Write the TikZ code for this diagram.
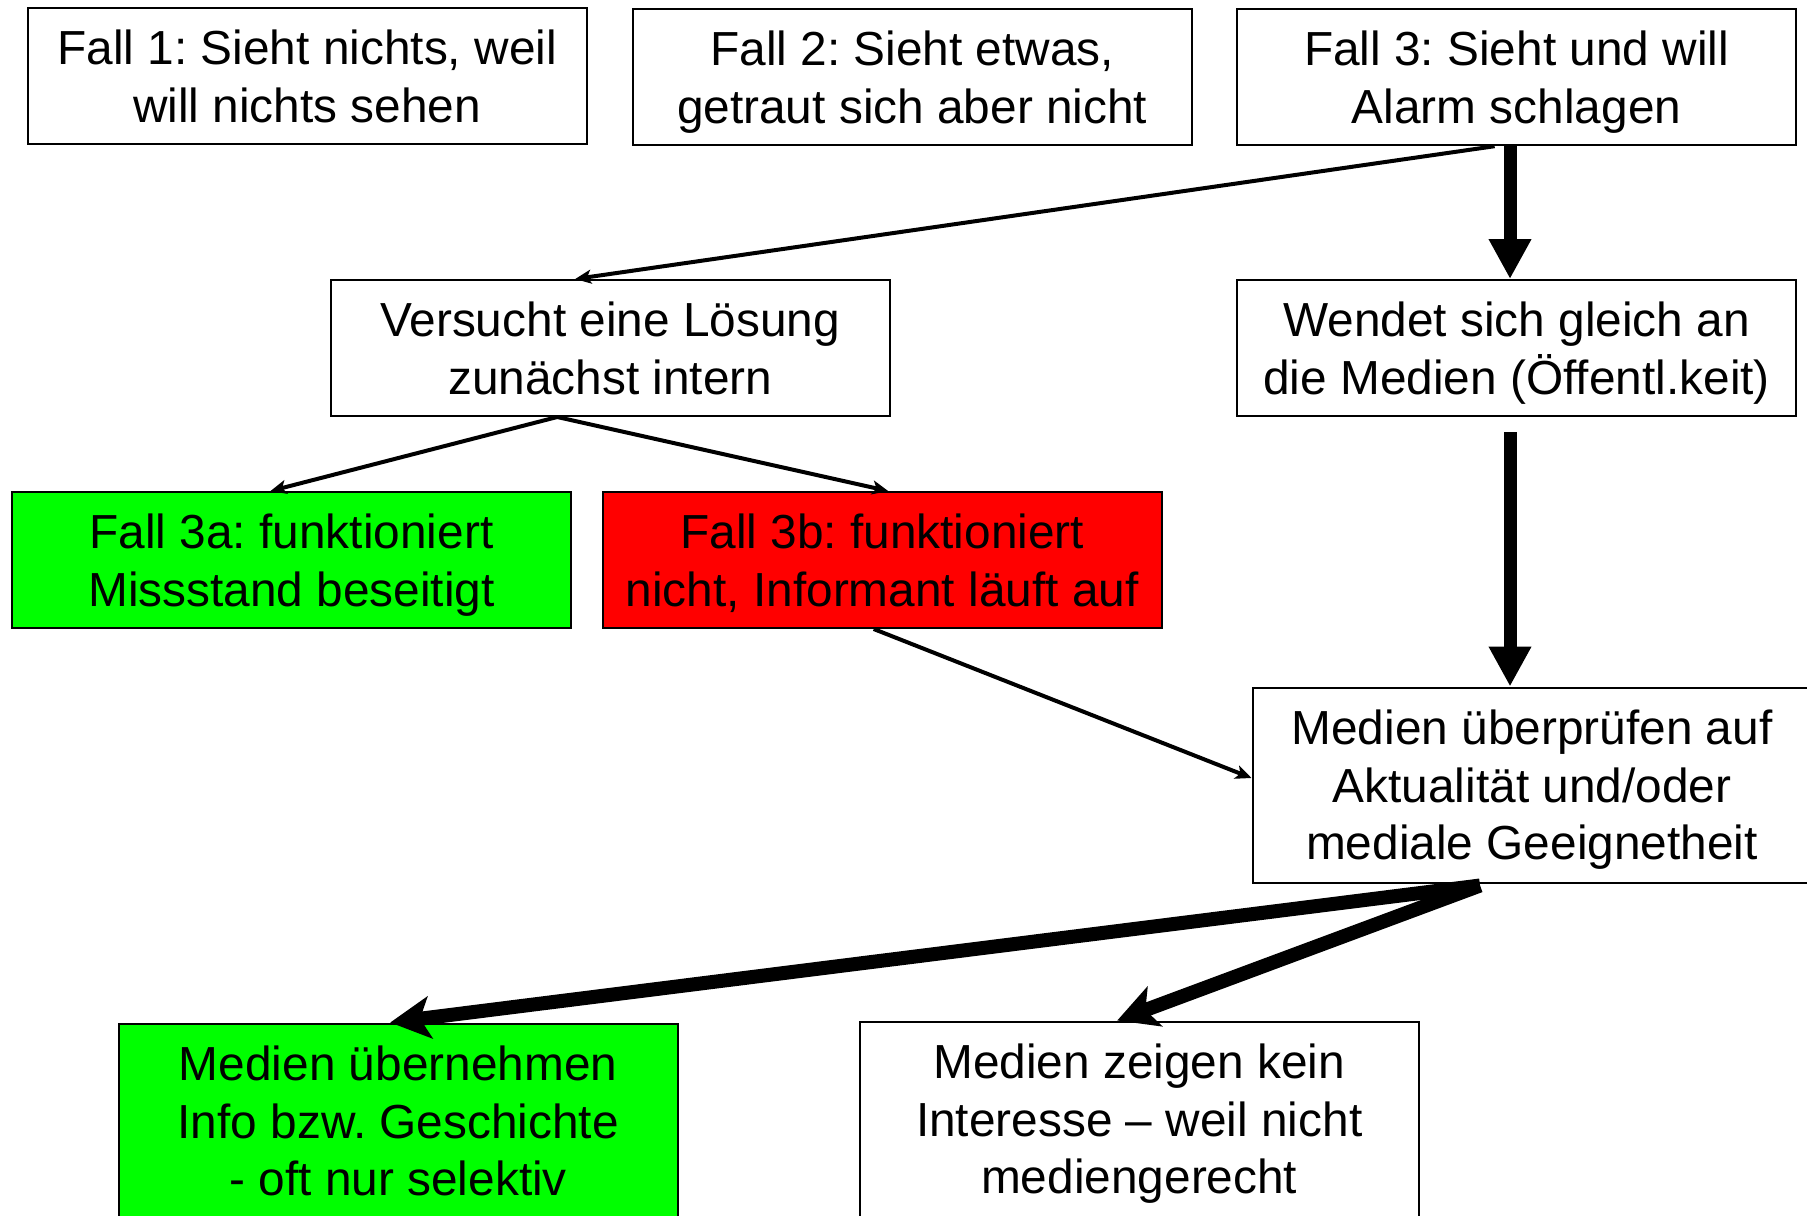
\documentclass[tikz,border=0pt]{standalone}
\usepackage{fontspec}
\setmainfont{Liberation Sans}
\usetikzlibrary{arrows.meta,calc}
\definecolor{boxgreen}{RGB}{0,255,0}
\definecolor{boxred}{RGB}{255,0,0}
\frenchspacing
\begin{document}
\begin{tikzpicture}[x=0.5pt,y=-0.5pt,
  box/.style={draw=black, line width=1pt, fill=white, minimum width=279.5pt,
    minimum height=68pt, inner sep=0pt, align=center, text depth=0pt,
    font=\fontsize{23.9}{28.8}\selectfont},
  tallbox/.style={box, minimum height=97.5pt},
  thinarrow/.style={line width=2pt, -{Stealth[length=8pt,width=7pt,inset=2pt]}},
  midarrow/.style={line width=6.5pt, -{Triangle[length=20pt,width=20pt]}},
  thickarrow/.style={line width=7pt, -{Stealth[length=20pt,width=21pt,inset=5pt]}}
]
\clip (0,0) rectangle (1807,1215);
\fill[white] (0,0) rectangle (1807,1215);

\node[box] (b1) at (307.2,76.3) {Fall 1: Sieht nichts, weil\\will nichts sehen};
\node[box] (b2) at (912.2,77.2) {Fall 2: Sieht etwas,\\getraut sich aber nicht};
\node[box] (b3) at (1516.6,77.2) {Fall 3: Sieht und will\\Alarm schlagen};
\node[box] (b4) at (610.2,348) {Versucht eine Lösung\\zunächst intern};
\node[box] (b5) at (1516.6,348) {Wendet sich gleich an\\die Medien (Öffentl.keit)};
\node[box, fill=boxgreen] (b6) at (291.5,560) {Fall 3a: funktioniert\\Missstand beseitigt};
\node[box, fill=boxred] (b7) at (882.2,560) {Fall 3b: funktioniert\\nicht, Informant läuft auf};
\node[tallbox] (b8) at (1532,785) {Medien überprüfen auf\\Aktualität und/oder\\mediale Geeignetheit};
\node[tallbox, fill=boxgreen] (b9) at (398.2,1121) {Medien übernehmen\\Info bzw. Geschichte\\- oft nur selektiv};
\node[tallbox] (b10) at (1139.2,1119) {Medien zeigen kein\\Interesse -- weil nicht\\mediengerecht};

\draw[thinarrow] ($(b3.south)+(-22,0)$) -- ($(b4.north)+(-35,0)$);
\draw[midarrow] ($(b3.south)+(-6.6,0)$) -- ($(b5.north)+(-6.6,0)$);
\draw[thinarrow] ($(b4.south)+(-53,0)$) -- ($(b6.north)+(-21,0)$);
\draw[thinarrow] ($(b4.south)+(-53,0)$) -- ($(b7.north)+(6,0)$);
\draw[midarrow] ($(b5.south)+(-6.6,15)$) -- ($(b8.north)+(-22,0)$);
\draw[thinarrow] ($(b7.south)+(-8.5,0)$) -- ($(b8.west)+(0,-7)$);
\draw[thickarrow] ($(b8.south)+(-52,2)$) -- ($(b9.north)+(-8,0)$);
\draw[thickarrow] ($(b8.south)+(-52,2)$) -- ($(b10.north)+(-22,0)$);
\end{tikzpicture}
\end{document}
